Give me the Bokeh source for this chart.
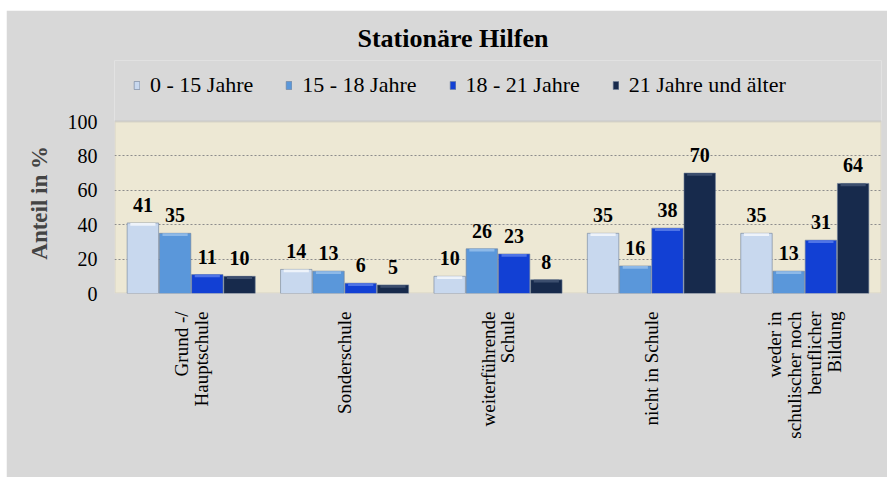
from bokeh.plotting import figure
from bokeh.models import (ColumnDataSource, FactorRange, Range1d, FixedTicker, Legend,
                          LegendItem, LabelSet, BoxAnnotation)
from bokeh.transform import dodge
from bokeh.embed import file_html
from bokeh.resources import INLINE

categories = ["Grund -/\nHauptschule", "Sonderschule", "weiterführende\nSchule",
              "nicht in Schule", "weder in\nschulischer noch\nberuflicher\nBildung"]
series_names = ["0 - 15 Jahre", "15 - 18 Jahre", "18 - 21 Jahre", "21 Jahre und älter"]
s0_15 = [41, 14, 10, 35, 35]
s15_18 = [35, 13, 26, 16, 13]
s18_21 = [11, 6, 23, 38, 31]
s21_plus = [10, 5, 8, 70, 64]
y_ticks = [0, 20, 40, 60, 80, 100]
y_min, y_max = 0, 100
y_title = "Anteil in %"

colors = ["#C8D8EE", "#5A97DA", "#1240D4", "#172A4C"]
tops = ["#EEF3FA", "#8DB9E8", "#4F74E6", "#3C4E6E"]
series = [s0_15, s15_18, s18_21, s21_plus]
offsets = [-0.315, -0.105, 0.105, 0.315]
bw = 0.205

FONT = "Liberation Serif"
GRAY = "#D8D8D8"

# frame extends above the value axis to host the legend; value axis 0..100
p = figure(x_range=FactorRange(*categories), y_range=Range1d(y_min, y_max * 1.3547),
           width=881, height=467, output_backend="svg", toolbar_location=None,
           min_border_left=108, min_border_right=6, min_border_top=50,
           min_border_bottom=184)
p.margin = (10, 0, 0, 6)
p.border_fill_color = GRAY
p.background_fill_color = GRAY
p.outline_line_color = None

wall = BoxAnnotation(bottom=y_min, top=y_max, fill_color="#EDE8D4", fill_alpha=1,
                     line_color="#A9A9A9", line_width=2, level="image")
p.add_layout(wall)

p.title.text = "Stationäre Hilfen"
p.title.align = "left"
p.title.offset = 243
p.title.text_font = FONT
p.title.text_font_size = "26px"
p.title.text_font_style = "bold"
p.title.text_color = "#000000"
p.title.standoff = 16

p.xgrid.grid_line_color = None
p.ygrid.ticker = FixedTicker(ticks=y_ticks[1:-1])
p.ygrid.grid_line_color = "#8C8C8C"
p.ygrid.grid_line_dash = "2 2"
p.ygrid.grid_line_width = 1

p.yaxis.ticker = FixedTicker(ticks=y_ticks)
p.yaxis.bounds = (y_min, y_max)
# trailing em spaces centre the visible title over the 0..100 part of the axis
p.yaxis.axis_label = y_title + "\u2003\u2003\u00a0"
p.yaxis.axis_label_text_font = FONT
p.yaxis.axis_label_text_font_style = "bold"
p.yaxis.axis_label_text_font_size = "23px"
p.yaxis.axis_label_standoff = 13
p.yaxis.major_label_text_font = FONT
p.yaxis.major_label_text_font_size = "20px"
p.yaxis.major_label_text_color = "#000000"
p.yaxis.major_label_standoff = 11
p.yaxis.axis_line_color = None
p.yaxis.major_tick_line_color = None
p.yaxis.minor_tick_line_color = None

p.xaxis.major_label_orientation = 1.5708
p.xaxis.major_label_text_font = FONT
p.xaxis.major_label_text_font_size = "19px"
p.xaxis.major_label_text_line_height = 0.95
p.xaxis.major_label_text_color = "#000000"
p.xaxis.major_label_standoff = 12
p.xaxis.axis_line_color = None
p.xaxis.major_tick_line_color = None

data = dict(cat=categories)
for i, s in enumerate(series):
    data[f"s{i}"] = s
    data[f"h{i}"] = [max(v - 1.6, 0) for v in s]
    data[f"t{i}"] = [str(v) for v in s]
src = ColumnDataSource(data)

items = []
for i in range(4):
    x = dodge("cat", offsets[i], range=p.x_range)
    r = p.vbar(x=x, top=f"s{i}", width=bw, source=src, fill_color=colors[i],
               line_color="#6F7F99", line_width=0.6)
    p.vbar(x=x, top=f"s{i}", bottom=f"h{i}", width=bw * 0.8, source=src,
           fill_color=tops[i], line_color=None)
    items.append(LegendItem(label=series_names[i], renderers=[r]))
    lbl = LabelSet(x=x, y=f"s{i}", text=f"t{i}", source=src, text_align="center",
                   text_baseline="bottom", y_offset=11, text_font=FONT,
                   text_font_size="20px", text_font_style="bold", text_color="#000000")
    p.add_layout(lbl)

legend = Legend(items=items, orientation="horizontal", location=(19, 195),
                background_fill_alpha=0, border_line_color=None,
                label_text_font=FONT, label_text_font_size="22px",
                label_text_color="#000000",
                glyph_width=7, glyph_height=10, spacing=32, label_standoff=10,
                padding=0, margin=0)
p.add_layout(legend, "center")

open("out.html", "w").write(file_html(p, INLINE))
